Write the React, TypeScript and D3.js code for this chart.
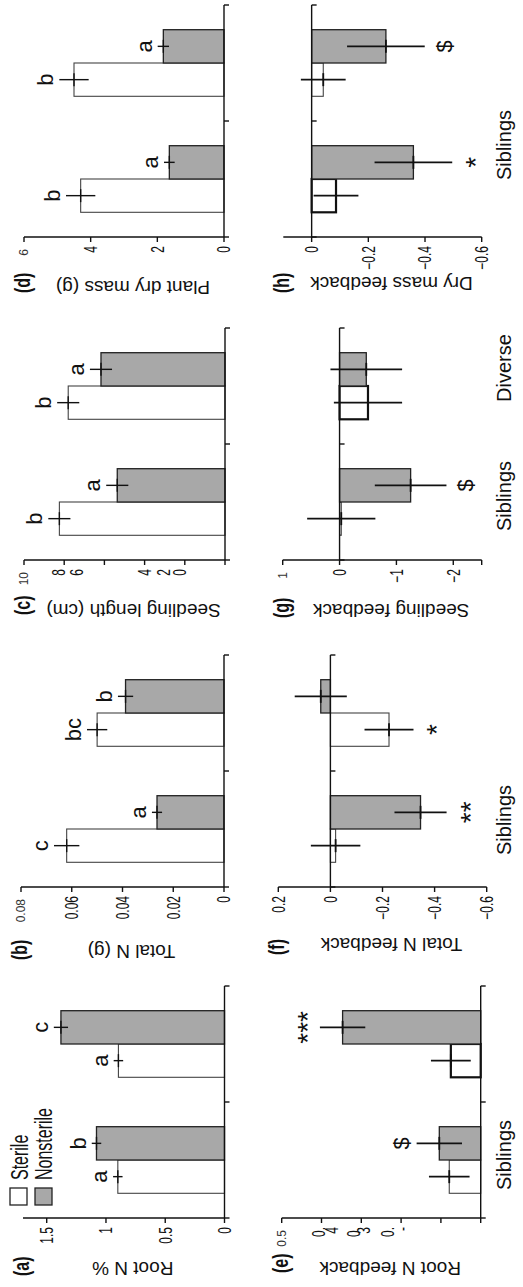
import React from "react";
import * as d3 from "d3";

const W = 1287;
const H = 523;

// ---------- data ----------
const panelIds = ["(a)", "(b)", "(c)", "(d)", "(e)", "(f)", "(g)", "(h)"];
const yTitles = [
  "Root N %",
  "Total N (g)",
  "Seedling length (cm)",
  "Plant dry mass (g)",
  "Root N feedback",
  "Total N feedback",
  "Seedling feedback",
  "Dry mass feedback",
];
const yDomains: number[][] = [
  [0, 1.7], [0, 0.08], [0, 10], [0, 6],
  [0, 0.5], [-0.6, 0.2], [-2.5, 1], [-0.6, 0.1],
];
const yTicks: number[][] = [
  [0, 0.5, 1, 1.5],
  [0, 0.02, 0.04, 0.06, 0.08],
  [0, 2, 4, 6, 8, 10],
  [0, 2, 4, 6],
  [0, 0.1, 0.2, 0.3, 0.4, 0.5],
  [-0.6, -0.4, -0.2, 0, 0.2],
  [-2.5, -2, -1, 0, 1],
  [-0.6, -0.4, -0.2, 0],
];
// tick label text and the value where it sits
const tickLabelText: string[][] = [
  ["0", "0.5", "1", "1.5"],
  ["0", "0.02", "0.04", "0.06", "0.08"],
  ["0", "2", "4", "6", "8", "10"],
  ["0", "2", "4", "6"],
  ["-", "0.", "3", "0.", "4", "0.", "0.5"],
  ["\u22120.6", "\u22120.4", "\u22120.2", "0", "0.2"],
  ["\u22122", "\u22121", "0", "1"],
  ["\u22120.6", "\u22120.4", "\u22120.2", "0"],
];
const tickLabelValue: number[][] = [
  [0, 0.5, 1, 1.5],
  [0, 0.02, 0.04, 0.06, 0.08],
  [2.24, 3.07, 4.0, 7.4, 8.3, 10],
  [0, 2, 4, 6],
  [0.196, 0.234, 0.295, 0.32, 0.374, 0.408, 0.5],
  [-0.6, -0.4, -0.2, 0, 0.2],
  [-2, -1, 0, 1],
  [-0.6, -0.4, -0.2, 0],
];
// labels printed in the small unstretched face
const smallTickLabels: string[][] = [[], ["0.08"], ["10"], ["6"], ["0.5"], [], ["1"], []];

const seriesNames = ["Sterile", "Nonsterile"];
const groupIndex = [0, 1];
// [group1, group2] per panel
const sterileMean: number[][] = [
  [0.9, 0.895], [0.062, 0.05], [8.24, 7.8], [4.3, 4.5],
  [0.079, 0.075], [-0.02, -0.225], [-0.03, -0.5], [-0.086, -0.041],
];
const sterileErr: number[][] = [
  [0.04, 0.04], [0.005, 0.004], [0.55, 0.55], [0.44, 0.44],
  [0.051, 0.05], [0.095, 0.094], [0.6, 0.6], [0.079, 0.079],
];
const nonsterileMean: number[][] = [
  [1.08, 1.38], [0.0264, 0.0388], [5.36, 6.17], [1.64, 1.82],
  [0.104, 0.347], [-0.346, 0.037], [-1.25, -0.47], [-0.359, -0.262],
];
const nonsterileErr: number[][] = [
  [0.04, 0.06], [0.002, 0.003], [0.55, 0.55], [0.16, 0.17],
  [0.057, 0.057], [0.1, 0.1], [0.63, 0.63], [0.137, 0.137],
];
// marks over bars: [g1 Sterile, g1 Nonsterile, g2 Sterile, g2 Nonsterile]
const barMarks: string[][] = [
  ["a", "b", "a", "c"],
  ["c", "a", "bc", "b"],
  ["b", "a", "b", "a"],
  ["b", "a", "b", "a"],
  ["", "$", "", "***"],
  ["", "**", "*", ""],
  ["", "$", "", ""],
  ["", "*", "", "$"],
];
const categoryLabels: string[][] = [
  ["", ""], ["", ""], ["", ""], ["", ""],
  ["Siblings", ""], ["Siblings", ""], ["Siblings", "Diverse"], ["Siblings", ""],
];

// ---------- layout / style ----------
const axisX = [69, 400, 727, 1050, 69, 400, 727, 1050];
const plotW = 232;
const yRanges = [
  [224.5, 23], [224, 21], [225, 24], [224, 24],
  [480.7, 281.7], [486.7, 278.3], [481.7, 282.7], [481.7, 283.3],
];
const titleOffset = [44, 58, 44, 44, 44, 51, 44, 40];
const labelOffset = [58, 73, 55, 56, 55, 68, 58, 56];
const catLabelShift = [[0, 0], [0, 0], [0, 0], [0, 0], [5, 0], [9, 0], [6, 18], [34, 0]];
const thickSterile = [
  [false, false], [false, false], [false, false], [false, false],
  [false, true], [false, false], [false, true], [true, false],
];
const GRAY = "#a8a8a8";
const FONT = "'Liberation Sans', Arial, Helvetica, sans-serif";

function SText(props: any) {
  const { x, y, sy = 1, size, anchor = "start", weight = "normal", baseline, children, fill = "#111" } = props;
  return (
    <text
      transform={`translate(${x},${y}) scale(1,${sy})`}
      fontSize={size}
      textAnchor={anchor}
      fontWeight={weight}
      dominantBaseline={baseline}
      fill={fill}
    >
      {children}
    </text>
  );
}

function Panel({ i }: { i: number }) {
  const x0 = axisX[i];
  const row2 = i >= 4;
  const [yb, yt] = yRanges[i];
  const y = d3.scaleLinear().domain(yDomains[i]).range([yb, yt]);
  const band = d3.scaleBand<number>().domain(groupIndex).range([x0, x0 + plotW]);
  const barW = 33.3;
  const inner = d3.scaleBand<string>().domain(seriesNames).range([-barW, barW]);
  const y0 = y(0);
  const bars: any[] = [];
  groupIndex.forEach((g) => {
    seriesNames.forEach((s, si) => {
      const m = si === 0 ? sterileMean[i][g] : nonsterileMean[i][g];
      const e = si === 0 ? sterileErr[i][g] : nonsterileErr[i][g];
      const bx = band(g)! + band.bandwidth() / 2 + inner(s)!;
      bars.push({ g, s, si, m, e, bx, cx: bx + barW / 2, mark: barMarks[i][g * 2 + si] });
    });
  });
  const yMin = yDomains[i][0];
  const yMax = yDomains[i][1];
  const catTicks = [x0, x0 + plotW / 2, x0 + plotW];
  return (
    <g>
      {/* bars */}
      {bars.map((b, k) => {
        const top = Math.min(y(b.m), y0);
        const h = Math.abs(y(b.m) - y0);
        const thick = b.si === 0 && thickSterile[i][b.g];
        return (
          <rect
            key={"r" + k}
            x={b.bx}
            y={top}
            width={barW}
            height={h}
            fill={b.si === 0 ? "#fff" : GRAY}
            stroke={b.si === 0 ? (thick ? "#111" : "#444") : "#222"}
            strokeWidth={thick ? 2.2 : b.si === 0 ? 1.1 : 1.3}
          />
        );
      })}
      {/* error bars */}
      {bars.map((b, k) => (
        <g key={"e" + k} stroke="#111" strokeWidth={row2 ? 1.8 : 1.4}>
          <line x1={b.cx} x2={b.cx} y1={y(b.m - b.e)} y2={y(b.m + b.e)} />
          <line x1={b.cx - 6.5} x2={b.cx + 6.5} y1={y(b.m)} y2={y(b.m)} />
        </g>
      ))}
      {/* marks */}
      {bars.map((b, k) => {
        if (!b.mark) return null;
        const star = b.mark.startsWith("*");
        let yy;
        if (!row2) yy = y(b.m + b.e) - 6;
        else if (b.m >= 0) yy = y(b.m + b.e) - (star ? 3 : 8);
        else yy = y(b.m - b.e) + (star ? 33 : 27);
        return (
          <SText key={"m" + k} x={b.cx} y={yy} size={star ? 28 : 22} anchor="middle">
            {b.mark}
          </SText>
        );
      })}
      {/* category axis */}
      <g stroke="#111" strokeWidth={1.4}>
        <line x1={x0} x2={x0 + plotW} y1={y0} y2={y0} />
        {catTicks.map((t, k) => (
          <line key={k} x1={t} x2={t} y1={y0} y2={y0 + 5} />
        ))}
      </g>
      {/* value axis */}
      <g stroke="#111" strokeWidth={1.4}>
        <line x1={x0} x2={x0} y1={y(yMax)} y2={y(yMin)} />
        {yTicks[i].map((t, k) => (
          <line key={k} x1={x0 - 5} x2={x0} y1={y(t)} y2={y(t)} />
        ))}
      </g>
      {tickLabelText[i].map((t, k) => {
        const small = smallTickLabels[i].includes(t);
        return (
          <SText
            key={"t" + k}
            x={x0 - (small ? 12 : 9)}
            y={y(tickLabelValue[i][k])}
            sy={small ? 1.1 : 1.5}
            size={small ? 12 : 12}
            anchor="end"
            baseline="central"
            fill={small ? "#333" : "#111"}
          >
            {t}
          </SText>
        );
      })}
      {/* y title */}
      <text
        transform={`translate(${x0 - titleOffset[i]},${(yb + yt) / 2 + 9}) rotate(-90)`}
        fontSize={19}
        textAnchor="middle"
        fill="#111"
      >
        {yTitles[i]}
      </text>
      {/* panel label */}
      <SText x={x0 - labelOffset[i]} y={yt + 6} sy={1.35} size={16} weight="bold" fill="#111">
        {panelIds[i]}
      </SText>
      {/* category labels */}
      {groupIndex.map((g) =>
        categoryLabels[i][g] ? (
          <SText
            key={"c" + g}
            x={band(g)! + band.bandwidth() / 2 + catLabelShift[i][g]}
            y={511}
            size={20}
            anchor="middle"
          >
            {categoryLabels[i][g]}
          </SText>
        ) : null
      )}
    </g>
  );
}

function Legend() {
  return (
    <g>
      {seriesNames.map((s, k) => (
        <g key={s}>
          <rect
            x={82}
            y={10 + k * 25}
            width={17}
            height={17}
            fill={k === 0 ? "#fff" : GRAY}
            stroke="#222"
            strokeWidth={1.3}
          />
          <SText x={107} y={28 + k * 24} sy={1.5} size={16}>
            {s}
          </SText>
        </g>
      ))}
    </g>
  );
}

export default function App() {
  return (
    <svg
      width={H}
      height={W}
      viewBox={`0 0 ${H} ${W}`}
      style={{ position: "absolute", left: 0, top: 0, background: "#fff" }}
      fontFamily={FONT}
    >
      <rect x={0} y={0} width={H} height={W} fill="#fff" />
      <g transform={`translate(0,${W}) rotate(-90)`}>
        {panelIds.map((_, i) => (
          <Panel key={i} i={i} />
        ))}
        <Legend />
      </g>
    </svg>
  );
}
